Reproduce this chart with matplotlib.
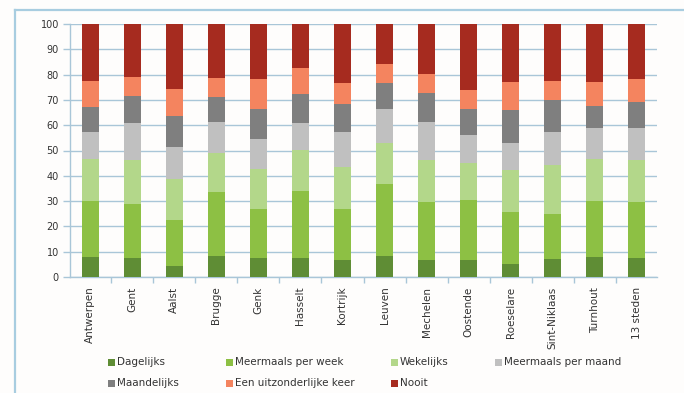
import matplotlib
matplotlib.use('Agg')
import matplotlib.pyplot as plt
import numpy as np
from matplotlib.patches import Rectangle
from matplotlib.lines import Line2D

STEDEN = ['Antwerpen', 'Gent', 'Aalst', 'Brugge', 'Genk', 'Hasselt', 'Kortrijk',
          'Leuven', 'Mechelen', 'Oostende', 'Roeselare', 'Sint-Niklaas',
          'Turnhout', '13 steden']

CATEGORIES = ['Dagelijks', 'Meermaals per week', 'Wekelijks', 'Meermaals per maand',
              'Maandelijks', 'Een uitzonderlijke keer', 'Nooit']

# percentages per city (same order as STEDEN)
dagelijks         = [7.9, 7.7, 4.5, 8.4, 7.5, 7.7, 6.9, 8.3, 6.6, 6.6, 5.3, 7.0, 7.9, 7.7]
meermaals_week    = [22.2, 21.3, 18.2, 25.2, 19.5, 26.1, 20.1, 28.6, 23.1, 23.7, 20.4, 17.8, 22.2, 22.0]
wekelijks         = [16.7, 17.4, 16.1, 15.5, 15.5, 16.3, 16.5, 15.9, 16.5, 14.8, 16.5, 19.4, 16.7, 16.5]
meermaals_maand   = [10.5, 14.3, 12.7, 12.2, 12.0, 10.6, 13.8, 13.8, 15.1, 11.2, 10.8, 13.2, 11.9, 12.5]
maandelijks       = [9.7, 10.7, 12.0, 9.9, 11.9, 11.6, 10.9, 9.9, 11.5, 10.3, 13.0, 12.5, 8.8, 10.6]
uitzonderlijk     = [10.6, 7.6, 10.8, 7.4, 11.7, 10.2, 8.6, 7.5, 7.3, 7.5, 10.9, 7.7, 9.7, 8.8]
nooit             = [22.4, 21.0, 25.7, 21.4, 21.9, 17.5, 23.2, 16.0, 19.9, 25.9, 23.1, 22.4, 22.8, 21.9]

SERIES = [dagelijks, meermaals_week, wekelijks, meermaals_maand,
          maandelijks, uitzonderlijk, nooit]
COLORS = ['#5f8d35', '#8dc044', '#b3d78a', '#c0c0c0', '#7f7f7f', '#f4845f', '#a62b1f']

GRID = '#a9c6d8'
TXT = '#333333'

W, H = 684, 393
fig = plt.figure(figsize=(W / 100, H / 100), dpi=100, facecolor='#fefdfc')

# light blue frame: left and top edges
fig.add_artist(Line2D([15 / W, 15 / W], [0, 1 - 10 / H], transform=fig.transFigure,
                      color='#a8cde0', lw=1.6))
fig.add_artist(Line2D([15 / W, 1], [1 - 10 / H, 1 - 10 / H], transform=fig.transFigure,
                      color='#a8cde0', lw=1.6))

ax = fig.add_axes([70 / W, 1 - 277 / H, (657 - 70) / W, (277 - 24) / H])
ax.set_facecolor('none')

x = np.arange(len(STEDEN))
bottom = np.zeros(len(STEDEN))
for vals, col, name in zip(SERIES, COLORS, CATEGORIES):
    ax.bar(x, vals, width=0.4, bottom=bottom, color=col, label=name, zorder=3,
           linewidth=0)
    bottom += np.array(vals)

ax.set_ylim(0, 100)
ax.set_xlim(-0.48, len(STEDEN) - 0.52)
ax.set_yticks(range(0, 101, 10))
ax.yaxis.grid(True, color=GRID, lw=1.0, zorder=0)
ax.tick_params(axis='y', colors=GRID, length=5, width=1, labelcolor=TXT,
               labelsize=7, pad=3)

ax.set_xticks(x)
ax.set_xticklabels(STEDEN, rotation=90, fontsize=7.5, color=TXT)
ax.tick_params(axis='x', length=0, pad=7)
ax.set_xticks(np.arange(len(STEDEN) - 1) + 0.5, minor=True)
ax.tick_params(axis='x', which='minor', length=4, width=1, colors=GRID)

for side in ['top', 'right']:
    ax.spines[side].set_visible(False)
for side in ['left', 'bottom']:
    ax.spines[side].set_color(GRID)
    ax.spines[side].set_linewidth(1.0)

# legend: two rows, four columns
col_x = [108, 226, 391, 495]
row_y = [362, 383]
for i, (name, col) in enumerate(zip(CATEGORIES, COLORS)):
    r, c = divmod(i, 4)
    px, py = col_x[c], row_y[r]
    fig.patches.append(Rectangle((px / W, 1 - (py + 3.5) / H), 7 / W, 7 / H,
                                 transform=fig.transFigure, facecolor=col,
                                 edgecolor='none'))
    fig.text((px + 9) / W, 1 - py / H, name, fontsize=7.5, color=TXT,
             va='center', ha='left')

fig.savefig('out.png', dpi=100, facecolor=fig.get_facecolor())
